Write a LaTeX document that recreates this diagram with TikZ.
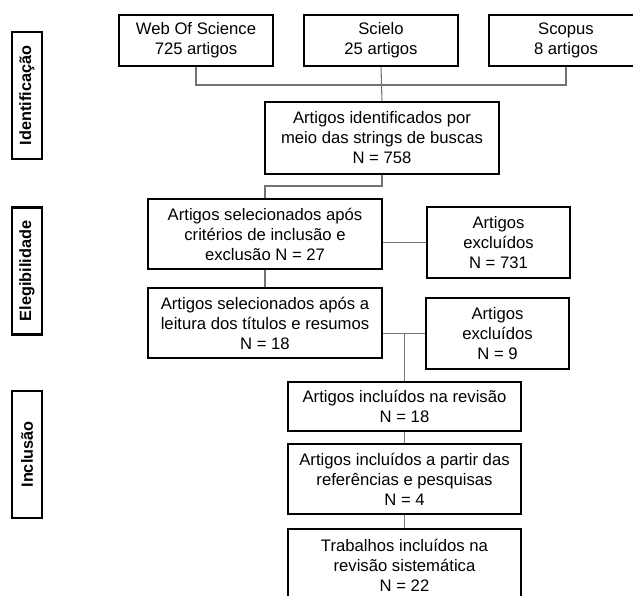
\documentclass[tikz,border=0pt]{standalone}
\usepackage{fontspec}
\setmainfont{Liberation Sans}
\begin{document}
\begin{tikzpicture}[x=0.75pt,y=-0.75pt,
  box/.style 2 args={draw=black,line width=1.9pt,align=center,inner sep=1pt,
    minimum width=#1*0.75pt,minimum height=#2*0.75pt,
    font=\fontsize{12.5}{15}\selectfont},
  stage/.style={draw=black,line width=1.9pt,rotate=90,inner sep=1pt,
    minimum width=127*0.75pt,minimum height=30*0.75pt,
    font=\fontsize{12.2}{15}\selectfont\bfseries},
  link/.style={draw=black!55,line width=0.8pt}]
\useasboundingbox (0,0) rectangle (633,596);
\clip (0,0) rectangle (633,596);
% stage labels
\node[stage] (lid) at (27,95.5) {Identificação};
\node[stage] (lel) at (27,271) {Elegibilidade};
\node[stage] (lin) at (27,454.5) {Inclusão};
% boxes
\node[box={154}{51}] (wos) at (196,40.5) {Web Of Science\\725 artigos};
\node[box={154}{51}] (sci) at (381,40.5) {Scielo\\25 artigos};
\node[box={154}{51}] (sco) at (566,40.5) {Scopus\\8 artigos};
\node[box={234}{72}] (ide) at (382,138) {Artigos identificados por\\meio das strings de buscas\\N = 758};
\node[box={234}{70}] (se1) at (265,234) {Artigos selecionados após\\critérios de inclusão e\\exclusão N = 27};
\node[box={234}{70}] (se2) at (265,323) {Artigos selecionados após a\\leitura dos títulos e resumos\\N = 18};
\node[box={143}{71}] (ex1) at (498.5,242.5) {Artigos\\excluídos\\N = 731};
\node[box={143}{71}] (ex2) at (497.5,333.5) {Artigos\\excluídos\\N = 9};
\node[box={233}{49}] (in1) at (404.5,406.5) {Artigos incluídos na revisão\\N = 18};
\node[box={233}{70}] (in2) at (404.5,479) {Artigos incluídos a partir das\\referências e pesquisas\\N = 4};
\node[box={233}{72}] (in3) at (404.5,565) {Trabalhos incluídos na\\revisão sistemática\\N = 22};
% junction coordinates
\coordinate (jt) at (381,85);
\coordinate (jm) at (323,186);
% connectors
\draw[link] (wos.south) -- (wos.south |- jt) -- (sco.south |- jt) -- (sco.south);
\draw[link] (sci.south) -- (ide.north);
\draw[link] (ide.south) -- (ide.south |- jm) -- (se1.north |- jm) -- (se1.north);
\draw[link] (se1.south) -- (se2.north);
\draw[link] (ex1.west) -- (ex1.west -| se1.east);
\draw[link] (ex2.west) -- (ex2.west -| se2.east);
\draw[link] (in1.north) -- (in1.north |- ex2.west);
\draw[link] (in1.south) -- (in2.north);
\draw[link] (in2.south) -- (in3.north);
\end{tikzpicture}
\end{document}
